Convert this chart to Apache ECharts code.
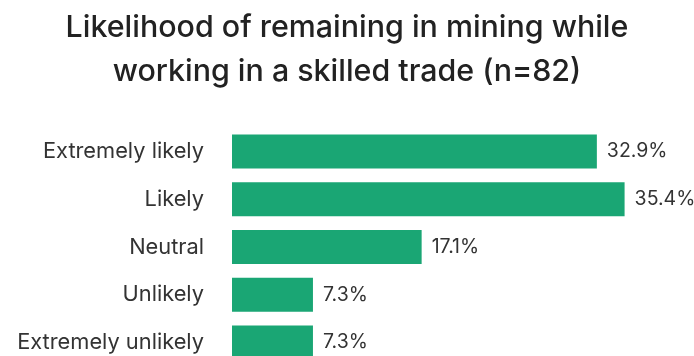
<!DOCTYPE html>
<html>
<head>
<meta charset="utf-8">
<script src="https://cdn.jsdelivr.net/npm/echarts@6/dist/echarts.min.js"></script>
<style>
  html, body { margin: 0; padding: 0; background: #fff; }
  #chart { width: 694px; height: 356px; }
</style>
</head>
<body>
<div id="chart"></div>
<script>
// Survey responses, top to bottom
const categories = ['Extremely likely', 'Likely', 'Neutral', 'Unlikely', 'Extremely unlikely'];
const shares = [32.9, 35.4, 17.1, 7.3, 7.3];
const titleText = 'Likelihood of remaining in mining while\nworking in a skilled trade (n=82)';

const chart = echarts.init(document.getElementById('chart'), null, { renderer: 'canvas' });

chart.setOption({
  animation: false,
  backgroundColor: '#ffffff',
  title: {
    text: titleText,
    left: 'center',
    top: 1,
    textStyle: {
      fontFamily: 'Inter',
      fontSize: 30.4,
      fontWeight: 500,
      color: '#222222',
      lineHeight: 44
    }
  },
  grid: {
    left: 232,
    top: 127.6,
    width: 443.6,
    height: 238.75,
    outerBoundsMode: 'none',
    containLabel: false
  },
  xAxis: {
    type: 'value',
    min: 0,
    max: 40,
    show: false
  },
  yAxis: {
    type: 'category',
    inverse: true,
    data: categories,
    axisLine: { show: false },
    axisTick: { show: false },
    splitLine: { show: false },
    axisLabel: {
      margin: 28,
      fontFamily: 'Inter',
      fontSize: 21.8,
      color: '#333333'
    }
  },
  series: [{
    type: 'bar',
    data: shares,
    barWidth: '71%',
    itemStyle: { color: '#1aa674' },
    label: {
      show: true,
      position: 'right',
      distance: 10,
      fontFamily: 'Inter',
      fontSize: 19.5,
      color: '#333333',
      formatter: p => p.value.toFixed(1) + '%'
    }
  }]
});
</script>
</body>
</html>
